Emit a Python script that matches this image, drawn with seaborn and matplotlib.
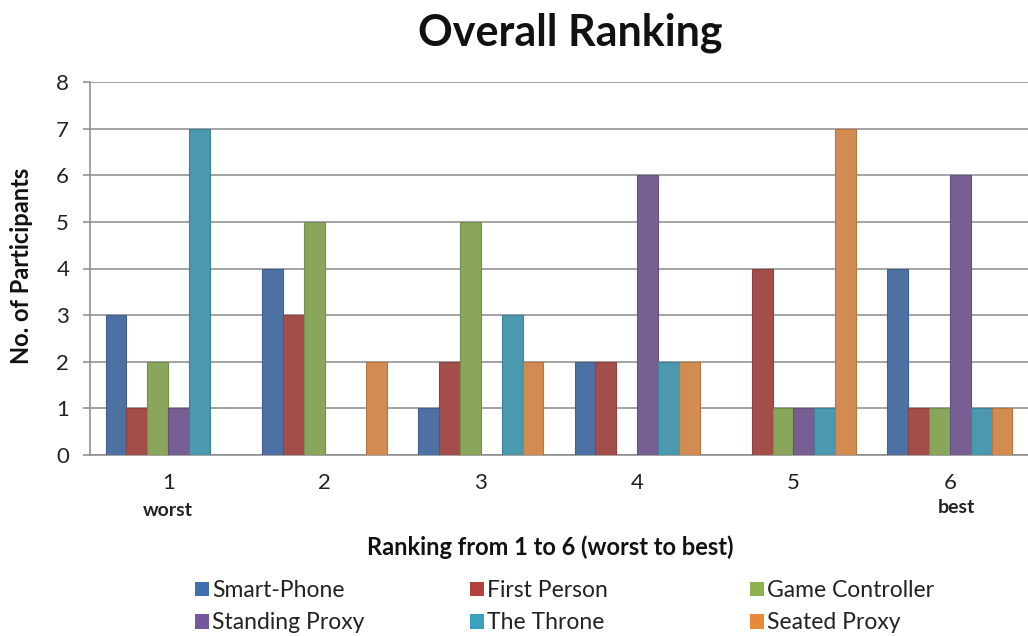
import matplotlib
matplotlib.use("Agg")
import matplotlib.pyplot as plt
from matplotlib.patches import Patch
import matplotlib.colors as mcolors
import seaborn as sns
import pandas as pd

# Ranking categories (1 = worst, 6 = best)
rankings = ["1", "2", "3", "4", "5", "6"]

# Number of participants giving each ranking, per interface
smart_phone = [3, 4, 1, 2, 0, 4]
first_person = [1, 3, 2, 2, 4, 1]
game_controller = [2, 5, 5, 0, 1, 1]
standing_proxy = [1, 0, 0, 6, 1, 6]
the_throne = [7, 0, 3, 2, 1, 1]
seated_proxy = [0, 2, 2, 2, 7, 1]

series_names = ["Smart-Phone", "First Person", "Game Controller",
                "Standing Proxy", "The Throne", "Seated Proxy"]
series_values = [smart_phone, first_person, game_controller,
                 standing_proxy, the_throne, seated_proxy]
colors = ["#3F6FB0", "#B3403D", "#8DB24F", "#76569C", "#3AA2BF", "#E8893A"]

rows = []
for name, vals in zip(series_names, series_values):
    for r, v in zip(rankings, vals):
        rows.append({"Ranking": r, "Interface": name, "Count": v})
df = pd.DataFrame(rows)

sns.set_theme(style="white")
plt.rcParams["font.family"] = ["Lato", "DejaVu Sans"]

fig = plt.figure(figsize=(10.28, 6.36), dpi=100)
ax = fig.add_axes([90 / 1028, 1 - 455 / 636, 1 - 90 / 1028, (455 - 82) / 636])

sns.barplot(data=df, x="Ranking", y="Count", hue="Interface",
            hue_order=series_names, order=rankings, palette=colors,
            width=0.8, dodge=True, errorbar=None, legend=False, ax=ax,
            linewidth=0.8, zorder=3)

# slightly darker outlines on each bar, none on empty bars
for p in ax.patches:
    fc = mcolors.to_rgb(p.get_facecolor())
    if p.get_height() == 0:
        p.set_linewidth(0)
    else:
        p.set_edgecolor(tuple(c * 0.85 for c in fc))

ax.set_xlim(-0.5, 5.5)
ax.set_ylim(0, 8)
ax.set_yticks(range(0, 9))
ax.yaxis.grid(True, color="#8a8a8a", linewidth=1.1, zorder=0)
ax.set_axisbelow(True)

for side in ["top", "right"]:
    ax.spines[side].set_visible(False)
for side in ["left", "bottom"]:
    ax.spines[side].set_color("#8a8a8a")
    ax.spines[side].set_linewidth(1.1)

ax.tick_params(axis="y", which="major", left=True, length=5, width=1.1,
               color="#8a8a8a", labelsize=16, pad=10, labelcolor="#222222")
ax.tick_params(axis="x", which="major", bottom=False, labelsize=16,
               pad=7, labelcolor="#222222")
ax.set_xlabel("")
ax.set_ylabel("")

# end-point annotations under the first and last ranking
trans = ax.get_xaxis_transform()
ax.text(0, -0.150, "worst", transform=trans, ha="center", va="center",
        fontsize=14, fontweight="bold", color="#222222")
ax.text(5.04, -0.140, "best", transform=trans, ha="center", va="center",
        fontsize=14, fontweight="bold", color="#222222")

fig.text(570 / 1028, 1 - 33 / 636, "Overall Ranking", ha="center",
         va="center", fontsize=31, fontweight="bold", color="#111111")
fig.text(550 / 1028, 1 - 547 / 636, "Ranking from 1 to 6 (worst to best)",
         ha="center", va="center", fontsize=17, fontweight="bold",
         color="#111111")
fig.text(22 / 1028, 1 - 266 / 636, "No. of Participants", ha="center",
         va="center", rotation=90, fontsize=17, fontweight="bold",
         color="#111111")

# legend: three columns of two entries each
col_x = [195, 470, 750]
for ci, x0 in enumerate(col_x):
    idx = [ci, ci + 3]
    handles = [Patch(facecolor=colors[i], edgecolor="none") for i in idx]
    labels = [series_names[i] for i in idx]
    fig.legend(handles, labels, loc="upper left",
               bbox_to_anchor=(x0 / 1028, 1 - 580 / 636),
               frameon=False, fontsize=16.5, handlelength=0.6,
               handleheight=0.6, handletextpad=0.15, labelspacing=0.5,
               borderpad=0, borderaxespad=0, labelcolor="#222222")

fig.savefig("out.png", dpi=100)
